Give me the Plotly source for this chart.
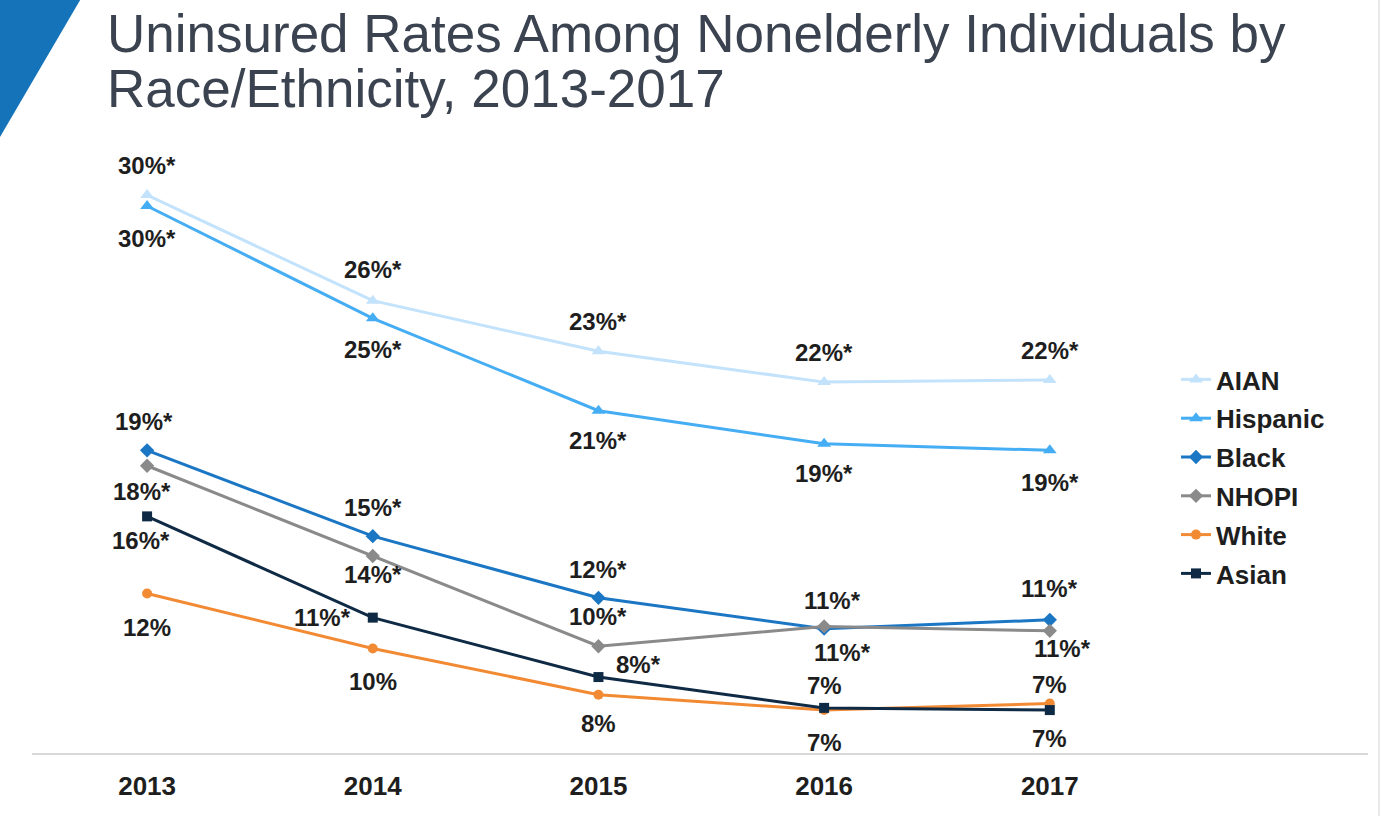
import plotly.graph_objects as go

# data (nonelderly uninsured rate, %)
years = ["2013", "2014", "2015", "2016", "2017"]
groups = ["AIAN", "Hispanic", "Black", "NHOPI", "White", "Asian"]

aian = [30.4, 25.6, 23.3, 21.9, 22.0]
hispanic = [29.9, 24.8, 20.6, 19.1, 18.8]
black = [18.8, 14.9, 12.1, 10.7, 11.1]
nhopi = [18.1, 14.0, 9.9, 10.8, 10.6]
white = [12.3, 9.8, 7.7, 7.0, 7.3]
asian = [15.8, 11.2, 8.5, 7.1, 7.0]

aian_labels = ["30%*", "26%*", "23%*", "22%*", "22%*"]
hispanic_labels = ["30%*", "25%*", "21%*", "19%*", "19%*"]
black_labels = ["19%*", "15%*", "12%*", "11%*", "11%*"]
nhopi_labels = ["18%*", "14%*", "10%*", "11%*", "11%*"]
white_labels = ["12%", "10%", "8%", "7%", "7%"]
asian_labels = ["16%*", "11%*", "8%*", "7%", "7%"]

values = [aian, hispanic, black, nhopi, white, asian]
labels = [aian_labels, hispanic_labels, black_labels, nhopi_labels, white_labels, asian_labels]

# styling
colors = ["#c3e2fb", "#45adf3", "#1b76c4", "#8a8a8a", "#f28a34", "#0f2a45"]
symbols = ["triangle-up", "triangle-up", "diamond", "diamond", "circle", "square"]
msizes = [12, 12, 11, 11, 10, 10]

# label offsets (xshift, yshift) in px for each point
offsets = [
    [(0, 30), (0, 31), (0, 30), (0, 30), (0, 29)],
    [(0, -32), (0, -31), (0, -30), (0, -30), (0, -32)],
    [(-3, 29), (0, 29), (0, 28), (8, 28), (0, 31)],
    [(-5, -26), (0, -18), (0, 30), (18, -26), (13, -18)],
    [(0, -34), (0, -33), (0, -29), (0, -32), (0, -35)],
    [(-6, -24), (-50, 0), (40, 13), (0, 22), (0, 26)],
]

W, H = 1388, 816
L, R, T, B = 32, 20, 140, 63
FONT = "Liberation Sans, Arial, sans-serif"


def px(x, y):
    # pixel position on the page -> paper coordinates
    return (x - L) / (W - L - R), (H - B - y) / (H - T - B)


fig = go.Figure()
for name, vals, col, sym, ms in zip(groups, values, colors, symbols, msizes):
    fig.add_trace(go.Scatter(
        x=years, y=vals, name=name, mode="lines+markers",
        legendgroup=name,
        line=dict(color=col, width=3),
        marker=dict(symbol=sym, size=ms, color=col),
        hoverinfo="skip",
    ))

annotations = []
for vals, labs, offs in zip(values, labels, offsets):
    for i, (v, lab, (dx, dy)) in enumerate(zip(vals, labs, offs)):
        annotations.append(dict(
            x=i, y=v, text=lab, showarrow=False,
            xshift=dx, yshift=dy,
            font=dict(family=FONT, size=24, color="#1e1e1e", weight="bold"),
        ))

# title
tx, ty1 = px(105, 33)
_, ty2 = px(105, 88)
for txt, ty in [("Uninsured Rates Among Nonelderly Individuals by", ty1),
                ("Race/Ethnicity, 2013-2017", ty2)]:
    annotations.append(dict(
        x=tx, y=ty, xref="paper", yref="paper", xanchor="left", yanchor="middle",
        text=txt, showarrow=False,
        font=dict(family=FONT, size=53, color="#3b4350"),
    ))

# blue corner wedge and right border
p0 = px(-10, -10)
p1 = px(86, -10)
p2 = px(-10, 154)
shapes = [
    dict(type="path", xref="paper", yref="paper",
         path=f"M {p0[0]},{p0[1]} L {p1[0]},{p1[1]} L {p2[0]},{p2[1]} Z",
         fillcolor="#1573ba", line=dict(width=0)),
]
bx, by0 = px(1379, 0)
_, by1 = px(1379, H)
shapes.append(dict(type="line", xref="paper", yref="paper",
                   x0=bx, x1=bx, y0=by0, y1=by1,
                   line=dict(color="#d4d4d4", width=1)))

lx, ly = px(1176, 356)

fig.update_layout(
    width=W, height=H,
    margin=dict(l=L, r=R, t=T, b=B),
    paper_bgcolor="white", plot_bgcolor="white",
    showlegend=True,
    legend=dict(
        x=lx, y=ly, xanchor="left", yanchor="top",
        traceorder="grouped", tracegroupgap=2,
        font=dict(family=FONT, size=26, color="#1e1e1e", weight="bold"),
        bgcolor="rgba(0,0,0,0)",
    ),
    xaxis=dict(
        type="category", range=[-0.51, 5.41],
        showgrid=False, zeroline=False,
        showline=True, linecolor="#d9d9d9", linewidth=1.5,
        ticks="", ticklabelstandoff=9,
        tickfont=dict(family=FONT, size=26, color="#1e1e1e", weight="bold"),
    ),
    yaxis=dict(
        range=[5.05, 32.9], visible=False, showgrid=False, zeroline=False,
    ),
    annotations=annotations,
    shapes=shapes,
)

# drop the default body margin so the chart fills the window edge to edge
fig.write_html("out.html", config={"displayModeBar": False},
               post_script="document.body.style.margin='0';")
